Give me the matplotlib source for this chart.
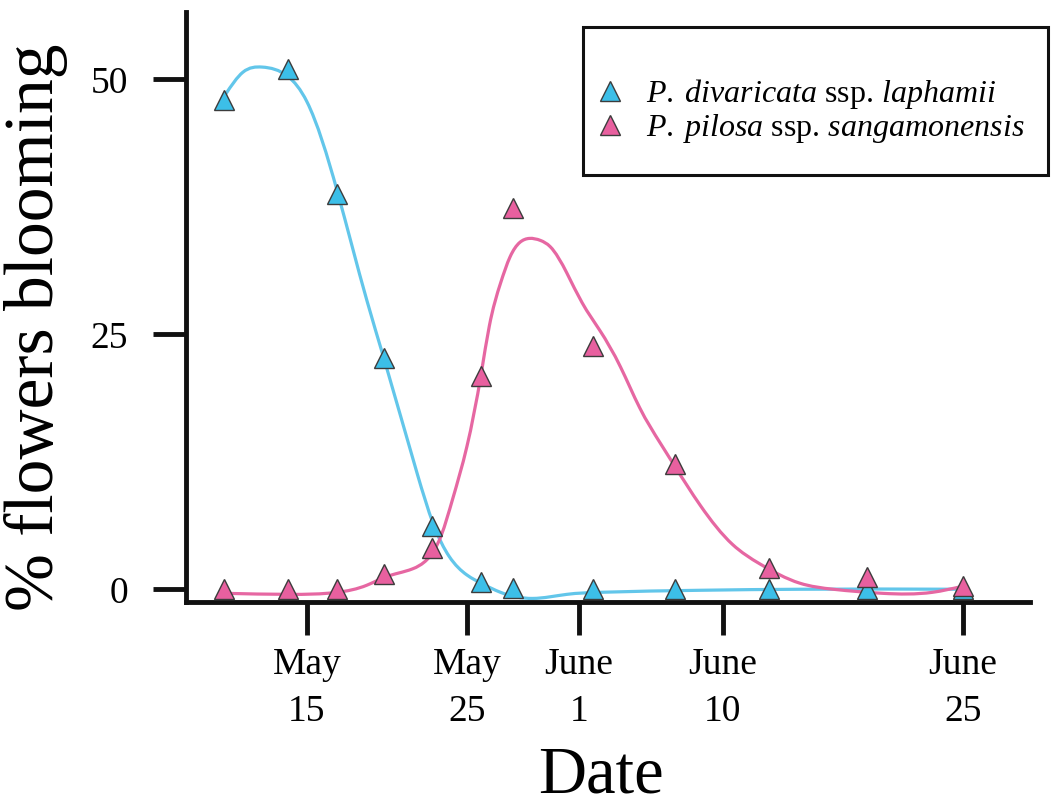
import matplotlib

matplotlib.use("Agg")
import matplotlib.pyplot as plt
import numpy as np
from matplotlib.patches import PathPatch, Rectangle
from matplotlib.path import Path

# x positions are days counted from May 1 (June 1 = 32)
sample_days = [9.8, 13.8, 16.9, 19.8, 22.8, 25.9, 27.9, 32.9, 38.0, 43.9, 50.0, 56.0]
divaricata_pct = [48.0, 51.0, 38.8, 22.7, 6.2, 0.7, 0.1, 0.0, 0.0, 0.0, 0.0, 0.0]
pilosa_pct = [0.0, 0.0, 0.0, 1.5, 4.0, 20.9, 37.4, 23.9, 12.3, 2.1, 1.2, 0.3]

# smoothed trend curves
divaricata_curve_x = [9.9, 11.0, 12.2, 13.8, 15.0, 16.9, 18.75, 19.8, 21.9, 22.9,
                      23.9, 25.0, 26.0, 27.1, 29.1, 31.25, 33.3, 39.6, 45.8, 56.0]
divaricata_curve_y = [48.5, 50.7, 51.2, 50.3, 47.8, 39.0, 28.3, 22.7, 11.3, 6.4,
                      3.2, 1.4, 0.5, -0.3, -0.9, -0.5, -0.3, -0.1, 0.0, 0.0]
pilosa_curve_x = [9.9, 13.9, 16.9, 18.75, 19.9, 21.6, 22.5, 23.4, 24.1, 25.0,
                  25.9, 26.4, 27.1, 27.7, 28.3, 28.9, 29.6, 30.2, 31.25, 32.2,
                  33.3, 34.6, 35.8, 37.1, 37.9, 39.6, 41.6, 43.3, 45.8, 47.9,
                  51.0, 54.1, 56.0]
pilosa_curve_y = [-0.4, -0.5, -0.3, 0.4, 1.2, 2.0, 2.9, 5.3, 8.8, 14.0,
                  21.2, 25.8, 30.0, 32.6, 34.0, 34.4, 34.2, 33.6, 31.0, 28.1,
                  25.4, 21.8, 17.8, 14.3, 12.3, 8.2, 4.4, 2.5, 0.6, 0.0,
                  -0.4, -0.3, 0.3]

tick_days = [15, 25, 32, 41, 56]
tick_labels = ["May\n15", "May\n25", "June\n1", "June\n10", "June\n25"]
y_ticks = [0, 25, 50]

series_labels = [
    r"$\mathit{P.\;divaricata}$ ssp. $\mathit{laphamii}$",
    r"$\mathit{P.\;pilosa}$ ssp. $\mathit{sangamonensis}$",
]

BLUE_FILL = "#3cbfe8"
PINK_FILL = "#e8609f"
BLUE_LINE = "#62c6ea"
PINK_LINE = "#e667a2"

plt.rcParams["font.family"] = ["Liberation Serif", "DejaVu Serif"]
plt.rcParams["mathtext.fontset"] = "custom"
plt.rcParams["mathtext.rm"] = "Liberation Serif"
plt.rcParams["mathtext.it"] = "Liberation Serif:italic"


def spline_path(xs, ys):
    # natural cubic spline through the read-off points, drawn as Bezier segments
    x = np.asarray(xs, dtype=float)
    y = np.asarray(ys, dtype=float)
    n = len(x)
    h = np.diff(x)
    a = np.zeros((n, n))
    b = np.zeros(n)
    a[0, 0] = a[-1, -1] = 1.0
    for i in range(1, n - 1):
        a[i, i - 1] = h[i - 1]
        a[i, i] = 2 * (h[i - 1] + h[i])
        a[i, i + 1] = h[i]
        b[i] = 6 * ((y[i + 1] - y[i]) / h[i] - (y[i] - y[i - 1]) / h[i - 1])
    m = np.linalg.solve(a, b)
    slope = np.empty(n)
    slope[:-1] = (y[1:] - y[:-1]) / h - h * (2 * m[:-1] + m[1:]) / 6
    slope[-1] = (y[-1] - y[-2]) / h[-1] + h[-1] * (m[-2] + 2 * m[-1]) / 6
    verts = [(x[0], y[0])]
    codes = [Path.MOVETO]
    for i in range(n - 1):
        d = h[i] / 3
        verts += [(x[i] + d, y[i] + slope[i] * d),
                  (x[i + 1] - d, y[i + 1] - slope[i + 1] * d),
                  (x[i + 1], y[i + 1])]
        codes += [Path.CURVE4] * 3
    return Path(verts, codes)


fig = plt.figure(figsize=(10.53, 8.06), dpi=100)
ax = fig.add_axes([0.1771, 0.2531, 0.978 - 0.1771, 0.9851 - 0.2531])

ax.add_patch(PathPatch(spline_path(divaricata_curve_x, divaricata_curve_y),
                       fill=False, edgecolor=BLUE_LINE, lw=2.3, zorder=2))
ax.add_patch(PathPatch(spline_path(pilosa_curve_x, pilosa_curve_y),
                       fill=False, edgecolor=PINK_LINE, lw=2.3, zorder=2.1))

marker_style = dict(linestyle="none", marker="^", markersize=15,
                    markeredgecolor="#3c3c3c", markeredgewidth=1.0)
ax.plot(sample_days, divaricata_pct, color=BLUE_FILL, markerfacecolor=BLUE_FILL,
        label=series_labels[0], zorder=3, **marker_style)
ax.plot(sample_days, pilosa_pct, color=PINK_FILL, markerfacecolor=PINK_FILL,
        label=series_labels[1], zorder=3.1, **marker_style)

ax.set_xlim(7.47, 60.19)
ax.set_ylim(-1.25, 56.6)

for side in ("top", "right"):
    ax.spines[side].set_visible(False)
for side in ("left", "bottom"):
    ax.spines[side].set_linewidth(3.5)
    ax.spines[side].set_color("#111111")

ax.set_xticks(tick_days)
ax.set_xticklabels(tick_labels, linespacing=1.45)
ax.set_yticks(y_ticks)
ax.tick_params(axis="both", direction="out", length=24, width=3.5,
               color="#111111", labelsize=27)
ax.tick_params(axis="y", pad=18)
ax.tick_params(axis="x", pad=9)

ax.set_xlabel("Date", fontsize=48)
ax.xaxis.set_label_coords(0.4917, -0.243)
ax.set_ylabel("% flowers blooming", fontsize=50)
ax.yaxis.set_label_coords(-0.141, 0.466)

leg = ax.legend(loc="center left", bbox_to_anchor=(594.5 / 1053, 1 - 111 / 806),
                bbox_transform=fig.transFigure, frameon=False, fontsize=23,
                handlelength=1.0, handletextpad=0.6, labelspacing=0.05,
                borderpad=0, borderaxespad=0)

frame = Rectangle((583 / 1053, 1 - 175 / 806), (1048 - 583) / 1053, 148 / 806,
                  transform=fig.transFigure, fill=False, edgecolor="#111111",
                  lw=2.2, zorder=5)
fig.add_artist(frame)

fig.savefig("out.png", dpi=100)
